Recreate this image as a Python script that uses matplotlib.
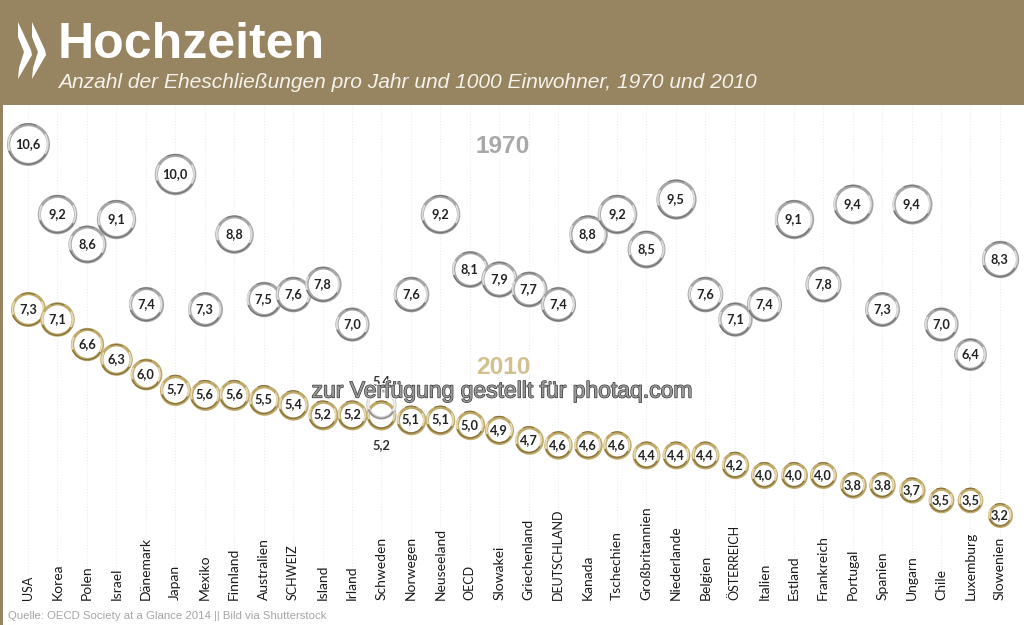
import matplotlib
matplotlib.use("Agg")
import matplotlib.pyplot as plt
import matplotlib.patheffects as pe
from matplotlib.patches import Polygon, Rectangle
from matplotlib.path import Path

countries = ["USA", "Korea", "Polen", "Israel", "Dänemark", "Japan", "Mexiko", "Finnland",
             "Australien", "SCHWEIZ", "Island", "Irland", "Schweden", "Norwegen", "Neuseeland",
             "OECD", "Slowakei", "Griechenland", "DEUTSCHLAND", "Kanada", "Tschechien",
             "Großbritannien", "Niederlande", "Belgien", "ÖSTERREICH", "Italien", "Estland",
             "Frankreich", "Portugal", "Spanien", "Ungarn", "Chile", "Luxemburg", "Slowenien"]
values_1970 = [10.6, 9.2, 8.6, 9.1, 7.4, 10.0, 7.3, 8.8, 7.5, 7.6, 7.8, 7.0, 5.4, 7.6, 9.2,
               8.1, 7.9, 7.7, 7.4, 8.8, 9.2, 8.5, 9.5, 7.6, 7.1, 7.4, 9.1, 7.8, 9.4, 7.3,
               9.4, 7.0, 6.4, 8.3]
values_2010 = [7.3, 7.1, 6.6, 6.3, 6.0, 5.7, 5.6, 5.6, 5.5, 5.4, 5.2, 5.2, 5.2, 5.1, 5.1,
               5.0, 4.9, 4.7, 4.6, 4.6, 4.6, 4.4, 4.4, 4.4, 4.2, 4.0, 4.0, 4.0, 3.8, 3.8,
               3.7, 3.5, 3.5, 3.2]

BROWN = "#978461"
GOLD = "#bfa968"
SKIP_LABEL = "Schweden"


def fmt(v):
    return f"{v:.1f}".replace(".", ",")


def bubble_size(v):
    # ring diameter grows with the value, 25 px at 3,2 up to 43 px at 10,6
    diameter_px = 17.2 + 2.43 * v - 3.2
    return (diameter_px * 0.72) ** 2


def rings(ax, x, y, size, color, dark, light, z, face="white"):
    # disc with ring, then a dark lower arc and a light upper arc for the metal look
    ax.scatter(x, y, s=size, facecolors=face, edgecolors=color, linewidths=2.3, zorder=z)
    ax.scatter(x, y, s=size * 1.04, marker=Path.arc(200, 340), facecolors="none",
               edgecolors=dark, linewidths=1.0, zorder=z + 0.001)
    ax.scatter(x, y, s=size * 1.04, marker=Path.arc(65, 115), facecolors="none",
               edgecolors=dark, linewidths=0.8, zorder=z + 0.001)
    ax.scatter(x, y, s=size * 0.98, marker=Path.arc(150, 200), facecolors="none",
               edgecolors=light, linewidths=1.3, zorder=z + 0.002)
    ax.scatter(x, y, s=size * 0.98, marker=Path.arc(-30, 30), facecolors="none",
               edgecolors=light, linewidths=1.3, zorder=z + 0.002)


fig = plt.figure(figsize=(10.24, 6.25), dpi=100)
ax = fig.add_axes([0, 0, 1, 1])
ax.set_xlim(-28 / 29.45, (1024 - 28) / 29.45)
ax.set_ylim(1.0, 13.474)
ax.axis("off")

xs = list(range(len(countries)))
ax.vlines(xs, 1.7, 11.4, colors="#ececec", linewidths=0.8, linestyles=":", zorder=1)

for i, v in enumerate(values_1970):
    if countries[i] == SKIP_LABEL:
        continue
    rings(ax, i, v, bubble_size(v), "#a6a6a6", "#767676", "#dddddd", 2 + i * 0.01)
    ax.text(i, v, fmt(v), ha="center", va="center", fontsize=9.2, fontweight="bold",
            family="Lato", color="#222222", zorder=2.9)

for i, v in enumerate(values_2010):
    rings(ax, i, v, bubble_size(v), GOLD, "#857340", "#e6d9b4", 3 + i * 0.01)
    if countries[i] != SKIP_LABEL:
        ax.text(i, v, fmt(v), ha="center", va="center", fontsize=9.2, fontweight="bold",
                family="Lato", color="#222222", zorder=4)

# Schweden's two rings overlap, so its values sit outside and the 1970 ring stays hollow
sw = countries.index(SKIP_LABEL)
rings(ax, sw, values_1970[sw], bubble_size(values_1970[sw]), "#c8c8c8", "#909090", "#eeeeee", 3.5,
      face="none")
ax.text(sw, values_1970[sw] + 0.46, fmt(values_1970[sw]), ha="center", va="center", fontsize=9.2,
        family="Lato", fontweight="bold", color="#333333", zorder=4)
ax.text(sw, values_2010[sw] - 0.6, fmt(values_2010[sw]), ha="center", va="center", fontsize=9.2,
        family="Lato", fontweight="bold", color="#333333", zorder=4)

for i, name in enumerate(countries):
    # capitals run wide in Lato
    ax.text(i, 1.5, name, rotation=90, ha="center", va="bottom", fontsize=9 if name.isupper() else 10,
            family="Lato", color="#1a1a1a", zorder=4)

ax.text(16.13, 10.56, "1970", ha="center", va="center", fontsize=17.6, fontweight="bold",
        family="Liberation Sans", color="#a8a8a8", zorder=4)
ax.text(16.13, 6.13, "2010", ha="center", va="center", fontsize=17.6, fontweight="bold",
        family="Liberation Sans", color="#d3c08f", zorder=4)

# header band and left edge
fig.add_artist(Rectangle((0, 1 - 105 / 625), 1, 105 / 625, transform=fig.transFigure,
                         facecolor=BROWN, edgecolor="none", zorder=5))
fig.add_artist(Rectangle((0, 0), 2.5 / 1024, 1, transform=fig.transFigure,
                         facecolor=BROWN, edgecolor="none", zorder=5))
for dx in (0, 14):
    pts = [(18 + dx, 22), (31 + dx, 50), (32 + dx, 55), (18 + dx, 79), (19 + dx, 68), (24 + dx, 52), (18 + dx, 37)]
    fig.add_artist(Polygon([(px / 1024, 1 - py / 625) for px, py in pts], closed=True,
                           transform=fig.transFigure, facecolor="white", edgecolor="none", zorder=6))

fig.text(58 / 1024, 1 - 45 / 625, "Hochzeiten", fontsize=36, fontweight="bold",
         family="Liberation Sans", color="white", va="center", ha="left", zorder=6)
fig.text(58 / 1024, 1 - 82 / 625, "Anzahl der Eheschließungen pro Jahr und 1000 Einwohner, 1970 und 2010",
         fontsize=15.1, style="italic", family="Liberation Sans", color="#f5f2ea", va="center",
         ha="left", zorder=6)
fig.text(8 / 1024, 1 - 616 / 625, "Quelle: OECD Society at a Glance 2014 || Bild via Shutterstock",
         fontsize=8.2, family="Liberation Sans", color="#a5a5a5", va="center", ha="left", zorder=6)

fig.text(502 / 1024, 1 - 391 / 625, "zur Verfügung gestellt für photaq.com", fontsize=16.5,
         family="Liberation Sans", color="#999999", va="center", ha="center", zorder=7,
         path_effects=[pe.Stroke(linewidth=2.4, foreground="white"),
                       pe.Stroke(linewidth=0.9, foreground="#2e2e2e"), pe.Normal()])

fig.savefig("out.png", dpi=100)
